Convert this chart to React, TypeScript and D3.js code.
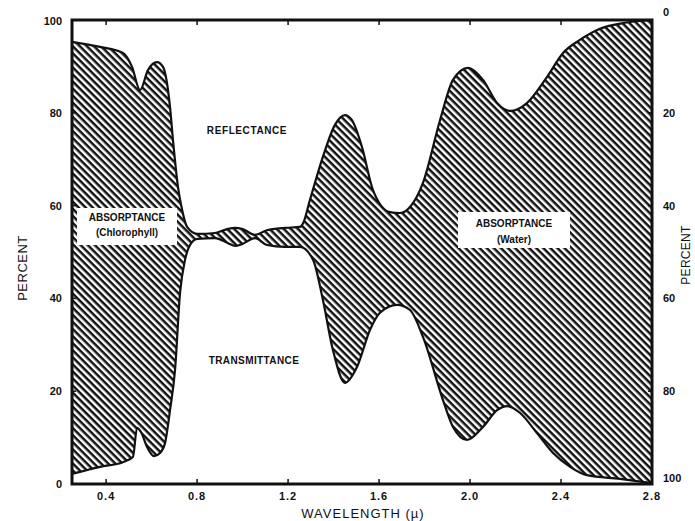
import React from "react";
import * as d3 from "d3";

// Upper boundary: reflectance, read on the right axis (measured from the top)
const reflectanceWl = [0.25, 0.373, 0.474, 0.514, 0.549, 0.584, 0.624, 0.65, 0.681, 0.694, 0.716, 0.734, 0.756, 0.8, 0.879, 0.936, 0.967, 0.997, 1.055, 1.107, 1.186, 1.252, 1.266, 1.296, 1.353, 1.406, 1.45, 1.481, 1.525, 1.573, 1.648, 1.692, 1.736, 1.793, 1.868, 1.925, 1.991, 2.057, 2.119, 2.176, 2.25, 2.338, 2.409, 2.483, 2.571, 2.681, 2.8];
const reflectance = [4.7, 5.8, 7.1, 10.1, 15.1, 10.8, 9.1, 10.1, 18.8, 25.9, 36.0, 40.9, 44.6, 46.1, 45.9, 45.0, 44.8, 45.0, 46.3, 45.3, 44.8, 44.6, 43.8, 38.8, 29.5, 22.6, 20.5, 21.6, 27.4, 36.6, 41.4, 41.6, 40.3, 35.1, 21.6, 12.9, 10.3, 12.9, 17.9, 19.6, 17.9, 12.3, 7.1, 4.3, 1.9, 0.6, 0];

// Lower boundary: transmittance, read on the left axis
const transmittanceWl = [0.25, 0.285, 0.373, 0.474, 0.518, 0.536, 0.553, 0.58, 0.61, 0.637, 0.659, 0.681, 0.703, 0.725, 0.747, 0.769, 0.8, 0.879, 0.936, 0.967, 0.997, 1.055, 1.107, 1.186, 1.252, 1.31, 1.353, 1.397, 1.45, 1.503, 1.56, 1.604, 1.679, 1.736, 1.793, 1.881, 1.925, 1.987, 2.057, 2.119, 2.163, 2.22, 2.294, 2.365, 2.44, 2.514, 2.659, 2.8];
const transmittance = [2.2, 2.6, 3.7, 4.7, 5.8, 12.1, 11.2, 8.0, 6.0, 6.7, 8.8, 15.9, 24.6, 41.2, 48.3, 51.5, 52.8, 53.0, 51.9, 51.3, 51.7, 53.0, 51.5, 51.1, 51.1, 48.3, 39.7, 28.9, 21.8, 25.2, 33.2, 36.9, 38.6, 37.5, 31.7, 18.1, 12.3, 9.5, 12.3, 15.9, 16.8, 15.3, 11.0, 6.7, 3.7, 1.9, 1.1, 0.2];

const xTicks = [0.4, 0.8, 1.2, 1.6, 2.0, 2.4, 2.8];
const xTickLabels = ["0.4", "0.8", "1.2", "1.6", "2.0", "2.4", "2.8"];
const yTicks = [0, 20, 40, 60, 80, 100];
const yTickLabels = ["0", "20", "40", "60", "80", "100"];

const W = 695;
const H = 521;
const M = { left: 72, right: 652, top: 20, bottom: 484 };
const FONT = "'Liberation Sans', Arial, sans-serif";

export default function App() {
  const x = d3.scaleLinear().domain([0.25, 2.8]).range([M.left, M.right]);
  const yL = d3.scaleLinear().domain([0, 100]).range([M.bottom, M.top]);
  const yR = d3.scaleLinear().domain([0, 100]).range([M.top, M.bottom]);

  const upperPts: [number, number][] = reflectanceWl.map((w, i) => [x(w), yR(reflectance[i])]);
  const lowerPts: [number, number][] = transmittanceWl.map((w, i) => [x(w), yL(transmittance[i])]);

  const line = d3.line().curve(d3.curveMonotoneX);
  const upperPath = line(upperPts) || "";
  const lowerPath = line(lowerPts) || "";
  const lowerRev = d3.line().curve(d3.curveMonotoneX)(lowerPts.slice().reverse()) || "";
  const areaPath = upperPath + "L" + lowerRev.slice(1) + "Z";

  return (
    <svg width={W} height={H} style={{ position: "absolute", left: 0, top: 0, background: "#fff" }} fontFamily={FONT}>
      <defs>
        <pattern id="hatch" patternUnits="userSpaceOnUse" width="5" height="5" patternTransform="rotate(45)">
          <rect width="5" height="5" fill="#fff" />
          <rect x="0" y="0" width="5" height="2.5" fill="#111" />
        </pattern>
      </defs>
      <rect x={0} y={0} width={W} height={H} fill="#fff" />

      <path d={areaPath} fill="url(#hatch)" stroke="none" />
      <path d={upperPath} fill="none" stroke="#111" strokeWidth={2.2} />
      <path d={lowerPath} fill="none" stroke="#111" strokeWidth={2.2} />

      {/* label boxes */}
      <rect x={77} y={208} width={100} height={37} fill="#fff" />
      <text x={127} y={221} textAnchor="middle" fontSize={10} fontWeight="bold" fill="#111">ABSORPTANCE</text>
      <text x={127} y={236} textAnchor="middle" fontSize={10} fontWeight="bold" fill="#111">(Chlorophyll)</text>

      <rect x={458} y={212} width={112} height={36} fill="#fff" />
      <text x={514} y={227} textAnchor="middle" fontSize={10} fontWeight="bold" fill="#111">ABSORPTANCE</text>
      <text x={514} y={243} textAnchor="middle" fontSize={10} fontWeight="bold" fill="#111">(Water)</text>

      <text x={247} y={134} textAnchor="middle" fontSize={10} fontWeight="bold" fill="#111" letterSpacing={0.6}>REFLECTANCE</text>
      <text x={254} y={364} textAnchor="middle" fontSize={10} fontWeight="bold" fill="#111" letterSpacing={0.4}>TRANSMITTANCE</text>

      {/* frame */}
      <rect x={M.left} y={M.top} width={M.right - M.left} height={M.bottom - M.top} fill="none" stroke="#111" strokeWidth={3} />

      {/* x ticks */}
      {xTicks.map((t, i) => (
        <g key={"xt" + i}>
          <line x1={x(t)} x2={x(t)} y1={M.bottom} y2={M.bottom - 5} stroke="#111" strokeWidth={1.5} />
          <line x1={x(t)} x2={x(t)} y1={M.top} y2={M.top + 5} stroke="#111" strokeWidth={1.5} />
          <text x={x(t)} y={500} textAnchor="middle" fontSize={11} fontWeight="bold" fill="#111" letterSpacing={1}>{xTickLabels[i]}</text>
        </g>
      ))}

      {/* left y ticks */}
      {yTicks.map((t, i) => (
        <g key={"yl" + i}>
          <line x1={M.left} x2={M.left + 4} y1={yL(t)} y2={yL(t)} stroke="#111" strokeWidth={1.5} />
          <text x={62} y={yL(t) + (t === 100 ? 5 : 4)} textAnchor="end" fontSize={11} fontWeight="bold" fill="#111">{yTickLabels[i]}</text>
        </g>
      ))}

      {/* right y ticks (reversed) */}
      {yTicks.map((t, i) => (
        <g key={"yr" + i}>
          <line x1={M.right} x2={M.right - 4} y1={yR(t)} y2={yR(t)} stroke="#111" strokeWidth={1.5} />
          <text x={663} y={yR(t) + (t === 0 ? -4 : t === 100 ? -2 : 4)} textAnchor="start" fontSize={11} fontWeight="bold" fill="#111">{yTickLabels[i]}</text>
        </g>
      ))}

      {/* axis titles */}
      <text x={363} y={518} textAnchor="middle" fontSize={13} fill="#111" letterSpacing={1}>WAVELENGTH (µ)</text>
      <text transform="translate(27,268) rotate(-90)" textAnchor="middle" fontSize={13} fill="#111" letterSpacing={0.5}>PERCENT</text>
      <text transform="translate(690,255) rotate(-90)" textAnchor="middle" fontSize={12} fill="#111" letterSpacing={0.3}>PERCENT</text>
    </svg>
  );
}
